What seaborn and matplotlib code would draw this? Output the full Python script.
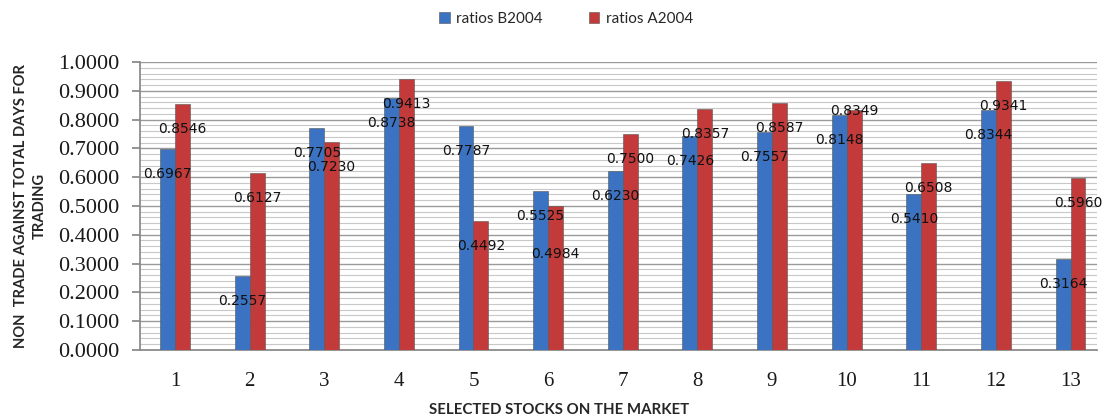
import matplotlib
matplotlib.use("Agg")
import matplotlib.pyplot as plt
import numpy as np
import pandas as pd
import seaborn as sns
from matplotlib.ticker import MultipleLocator

sns.set_theme(style="white")

# Data
stocks = ["1", "2", "3", "4", "5", "6", "7", "8", "9", "10", "11", "12", "13"]
ratios_b2004 = [0.6967, 0.2557, 0.7705, 0.8738, 0.7787, 0.5525, 0.6230,
                0.7426, 0.7557, 0.8148, 0.5410, 0.8344, 0.3164]
ratios_a2004 = [0.8546, 0.6127, 0.7230, 0.9413, 0.4492, 0.4984, 0.7500,
                0.8357, 0.8587, 0.8349, 0.6508, 0.9341, 0.5960]
series_names = ["ratios B2004", "ratios A2004"]

df = pd.DataFrame({
    "stock": stocks * 2,
    "ratio": ratios_b2004 + ratios_a2004,
    "series": [series_names[0]] * len(stocks) + [series_names[1]] * len(stocks),
})

fig = plt.figure(figsize=(11.1, 4.19), dpi=100)
ax = fig.add_axes([0.126, 0.165, 0.862, 0.687])

colors = ["#3B73C2", "#C23A3A"]
sns.barplot(data=df, x="stock", y="ratio", hue="series", palette=colors,
            width=0.4, ax=ax, saturation=1, legend=False,
            edgecolor="#555555", linewidth=0.4, zorder=3)

# grid: major every 0.1, minor every 0.02
ax.set_ylim(0, 1.0)
ax.set_xlim(-0.47, 12.35)
ax.yaxis.set_major_locator(MultipleLocator(0.1))
ax.yaxis.set_minor_locator(MultipleLocator(0.02))
ax.grid(which="major", axis="y", color="#9a9a9a", linewidth=1.0, zorder=0)
ax.grid(which="minor", axis="y", color="#c8c8c8", linewidth=0.8, zorder=0)
ax.set_axisbelow(True)

for side in ["top", "right"]:
    ax.spines[side].set_visible(False)
ax.spines["left"].set_color("#888888")
ax.spines["bottom"].set_color("#888888")

ax.yaxis.set_major_formatter(plt.FuncFormatter(lambda v, p: f"{v:.4f}"))
ax.tick_params(axis="y", which="major", left=True, length=6, color="#888888",
               labelsize=16, pad=9)
ax.tick_params(axis="y", which="minor", left=False)
ax.tick_params(axis="x", bottom=False, labelsize=15, pad=10)
for lab in ax.get_yticklabels() + ax.get_xticklabels():
    lab.set_family(["Liberation Serif", "DejaVu Serif"])
    lab.set_color("#1a1a1a")

ax.set_xlabel("SELECTED STOCKS ON THE MARKET", fontsize=10.8, fontweight="bold",
              family=["Lato", "DejaVu Sans"])
ax.xaxis.set_label_coords(0.438, -0.185)
ax.set_ylabel("NON  TRADE AGAINST TOTAL DAYS FOR\nTRADING", fontsize=10.6,
              fontweight="bold", family=["Lato", "DejaVu Sans"], labelpad=8,
              linespacing=1.45)

# value labels, placed a little below the top of each bar
# (two labels were moved by hand in the original)
label_nudge = {("ratios A2004", "6"): -16, ("ratios A2004", "10"): 17}
for name, container in zip(series_names, ax.containers):
    for stock, bar in zip(stocks, container):
        h = bar.get_height()
        dy = -18 + label_nudge.get((name, stock), 0)
        ax.annotate(f"{h:.4f}", (bar.get_x() + bar.get_width() / 2, h),
                    xytext=(0, dy), textcoords="offset points",
                    ha="center", va="center", fontsize=10,
                    family=["DejaVu Sans"], color="#111111", zorder=5)

handles = [plt.Rectangle((0, 0), 1, 1, facecolor=c, edgecolor="#555555",
                         linewidth=0.4) for c in colors]
fig.legend(handles, series_names, loc="upper center", ncol=2,
           bbox_to_anchor=(0.51, 1.005), frameon=False,
           prop={"family": ["Lato", "DejaVu Sans"], "size": 11},
           handlelength=0.7, handleheight=0.7, handletextpad=0.4,
           columnspacing=3.0)

fig.savefig("out.png", dpi=100)
